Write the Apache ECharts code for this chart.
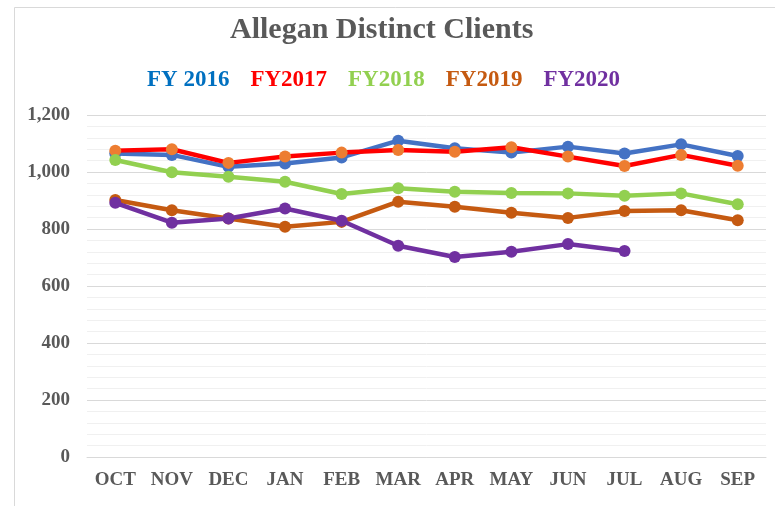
<!DOCTYPE html>
<html>
<head>
<meta charset="utf-8">
<script src="https://cdn.jsdelivr.net/npm/echarts@6.0.0/dist/echarts.min.js"></script>
<style>
html,body{margin:0;padding:0;background:#fff;}
#chart{width:775px;height:506px;}
</style>
</head>
<body>
<div id="chart"></div>
<script>
const months = ['OCT','NOV','DEC','JAN','FEB','MAR','APR','MAY','JUN','JUL','AUG','SEP'];
const seriesNames = ['FY 2016','FY2017','FY2018','FY2019','FY2020'];
const fy2016 = [1065,1060,1018,1030,1051,1110,1083,1068,1089,1065,1097,1056];
const fy2017 = [1075,1080,1032,1054,1068,1077,1071,1087,1054,1021,1060,1022];
const fy2018 = [1042,999,983,966,923,943,931,926,925,917,925,887];
const fy2019 = [902,866,837,808,825,896,878,857,839,863,866,831];
const fy2020 = [892,822,837,872,829,741,702,720,747,723];
const yMin = 0, yMax = 1200, yStep = 200;

const lineColors = ['#4472C4','#FF0000','#92D050','#C55A11','#7030A0'];
const markerColors = ['#4472C4','#ED7D31','#92D050','#C55A11','#7030A0'];
const legendColors = ['#0070C0','#FF0000','#92D050','#C55A11','#7030A0'];
const allData = [fy2016, fy2017, fy2018, fy2019, fy2020];

const serif = '"Liberation Serif", "Times New Roman", serif';
const chart = echarts.init(document.getElementById('chart'), null, {renderer:'canvas'});

chart.setOption({
  animation: false,
  backgroundColor: '#fff',
  graphic: [{
    type: 'rect', left: 12, top: 5, silent: true, z: -10,
    shape: {width: 800, height: 600},
    style: {fill: 'none', stroke: '#d9d9d9', lineWidth: 1}
  }],
  title: {
    text: 'Allegan Distinct Clients',
    left: 225, top: 10,
    textStyle: {fontFamily: serif, fontWeight: 'bold', fontSize: 30, color: '#595959'}
  },
  legend: {
    top: 64, left: 137,
    itemWidth: 0, itemHeight: 0, itemGap: 16,
    data: seriesNames.map((n, i) => ({name: n, icon: 'none', textStyle: {color: legendColors[i]}})),
    textStyle: {fontFamily: serif, fontWeight: 'bold', fontSize: 23}
  },
  grid: {left: 87, right: 9, top: 115, bottom: 49, containLabel: false},
  xAxis: {
    type: 'category', data: months, boundaryGap: true,
    axisLine: {show: true, lineStyle: {color: '#d9d9d9', width: 1}},
    axisTick: {show: false},
    axisLabel: {fontFamily: serif, fontWeight: 'bold', fontSize: 19, color: '#595959', margin: 14, interval: 0}
  },
  yAxis: {
    type: 'value', min: yMin, max: yMax, interval: yStep,
    axisLine: {show: false}, axisTick: {show: false},
    axisLabel: {
      fontFamily: serif, fontWeight: 'bold', fontSize: 19, color: '#595959', margin: 17,
      formatter: v => v.toLocaleString('en-US')
    },
    splitLine: {show: true, lineStyle: {color: '#d9d9d9', width: 1}},
    minorTick: {show: false, splitNumber: 5},
    minorSplitLine: {show: true, lineStyle: {color: '#f0f0f0', width: 1}}
  },
  series: allData.map((d, i) => ({
    name: seriesNames[i],
    type: 'line',
    data: d,
    symbol: 'circle',
    symbolSize: 12,
    showAllSymbol: true,
    lineStyle: {color: lineColors[i], width: 4.5},
    itemStyle: {color: markerColors[i]},
    z: 2 + i
  }))
});
</script>
</body>
</html>
